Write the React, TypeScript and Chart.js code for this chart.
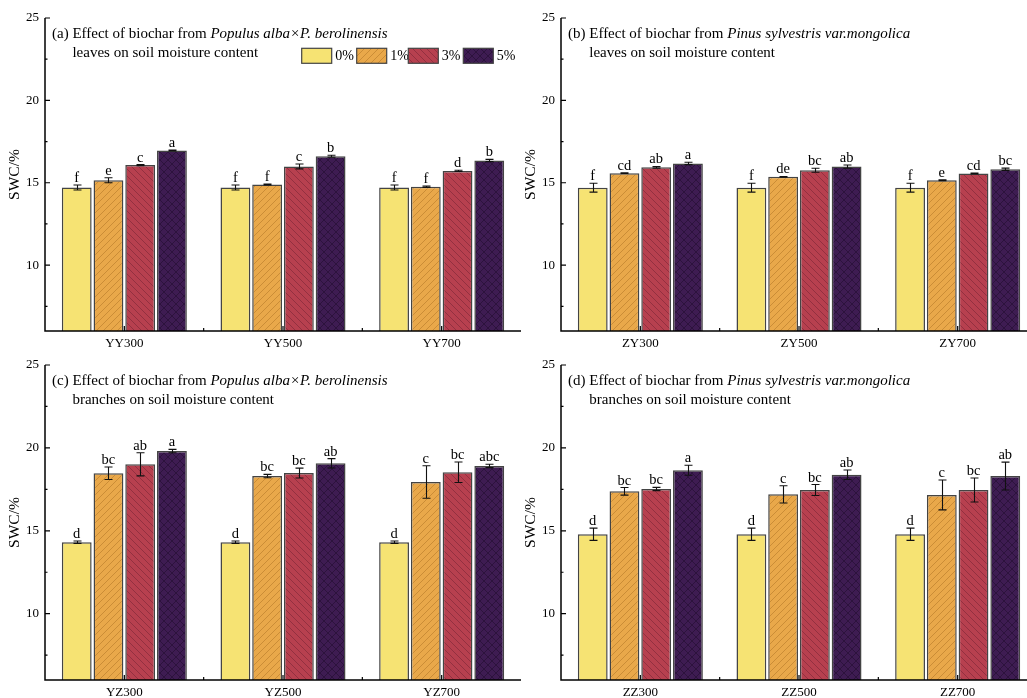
import React, { useEffect, useRef } from "react";
import { Chart, registerables } from "chart.js";

Chart.register(...registerables);

// ---- shared axis settings ----
const DOSES = ["0%", "1%", "3%", "5%"];
const Y_MIN = 6;
const Y_MAX = 25;
const Y_TICKS = [10, 15, 20, 25];
const Y_MINOR = [7.5, 12.5, 17.5, 22.5];

// ---- (a) Populus leaves ----
const YY_CATS = ["YY300", "YY500", "YY700"];
const YY_MEANS = [
  [14.71, 14.71, 14.71],
  [15.15, 14.89, 14.76],
  [16.07, 15.99, 15.72],
  [16.96, 16.61, 16.35],
];
const YY_ERRS = [
  [0.15, 0.15, 0.15],
  [0.15, 0.03, 0.04],
  [0.03, 0.15, 0.04],
  [0.03, 0.06, 0.07],
];
const YY_LETTERS = [
  ["f", "f", "f"],
  ["e", "f", "f"],
  ["c", "c", "d"],
  ["a", "b", "b"],
];

// ---- (b) Pinus leaves ----
const ZY_CATS = ["ZY300", "ZY500", "ZY700"];
const ZY_MEANS = [
  [14.7, 14.7, 14.7],
  [15.58, 15.36, 15.15],
  [15.94, 15.76, 15.56],
  [16.17, 15.98, 15.82],
];
const ZY_ERRS = [
  [0.27, 0.27, 0.27],
  [0.02, 0.02, 0.03],
  [0.05, 0.12, 0.03],
  [0.07, 0.1, 0.07],
];
const ZY_LETTERS = [
  ["f", "f", "f"],
  ["cd", "de", "e"],
  ["ab", "bc", "cd"],
  ["a", "ab", "bc"],
];

// ---- (c) Populus branches ----
const YZ_CATS = ["YZ300", "YZ500", "YZ700"];
const YZ_MEANS = [
  [14.31, 14.31, 14.31],
  [18.47, 18.3, 17.94],
  [19.01, 18.48, 18.53],
  [19.81, 19.07, 18.91],
];
const YZ_ERRS = [
  [0.07, 0.07, 0.07],
  [0.38, 0.1, 0.98],
  [0.7, 0.3, 0.62],
  [0.1, 0.28, 0.1],
];
const YZ_LETTERS = [
  ["d", "d", "d"],
  ["bc", "bc", "c"],
  ["ab", "bc", "bc"],
  ["a", "ab", "abc"],
];

// ---- (d) Pinus branches ----
const ZZ_CATS = ["ZZ300", "ZZ500", "ZZ700"];
const ZZ_MEANS = [
  [14.79, 14.79, 14.79],
  [17.38, 17.2, 17.16],
  [17.52, 17.46, 17.46],
  [18.65, 18.38, 18.3],
];
const ZZ_ERRS = [
  [0.37, 0.37, 0.37],
  [0.23, 0.52, 0.9],
  [0.1, 0.33, 0.72],
  [0.3, 0.29, 0.84],
];
const ZZ_LETTERS = [
  ["d", "d", "d"],
  ["bc", "c", "c"],
  ["bc", "bc", "bc"],
  ["a", "ab", "ab"],
];

const SERIF = '"Liberation Serif", "Times New Roman", Times, serif';
const FILLS = ["#F6E373", "#E9A84A", "#B7404F", "#3E1C52"];
const HATCH_INK = ["", "#C68934", "#8E2F3E", "#2A1139"];
const EDGE = "#444444";

type PanelSpec = {
  tag: string;
  species: string;
  part: string;
  cats: string[];
  means: number[][];
  errs: number[][];
  letters: string[][];
  legend: boolean;
};

const PANEL_A: PanelSpec = {
  tag: "(a)",
  species: "Populus alba×P. berolinensis",
  part: "leaves on soil moisture content",
  cats: YY_CATS,
  means: YY_MEANS,
  errs: YY_ERRS,
  letters: YY_LETTERS,
  legend: true,
};
const PANEL_B: PanelSpec = {
  tag: "(b)",
  species: "Pinus sylvestris var.mongolica",
  part: "leaves on soil moisture content",
  cats: ZY_CATS,
  means: ZY_MEANS,
  errs: ZY_ERRS,
  letters: ZY_LETTERS,
  legend: false,
};
const PANEL_C: PanelSpec = {
  tag: "(c)",
  species: "Populus alba×P. berolinensis",
  part: "branches on soil moisture content",
  cats: YZ_CATS,
  means: YZ_MEANS,
  errs: YZ_ERRS,
  letters: YZ_LETTERS,
  legend: false,
};
const PANEL_D: PanelSpec = {
  tag: "(d)",
  species: "Pinus sylvestris var.mongolica",
  part: "branches on soil moisture content",
  cats: ZZ_CATS,
  means: ZZ_MEANS,
  errs: ZZ_ERRS,
  letters: ZZ_LETTERS,
  legend: false,
};

// hatch patterns: 0 = plain, 1 = "/" lines, 2 = "\" lines, 3 = cross-hatch
function makeFill(i: number): CanvasPattern | string {
  if (i === 0) return FILLS[0];
  const size = i === 3 ? 8 : 7;
  const c = document.createElement("canvas");
  c.width = size;
  c.height = size;
  const g = c.getContext("2d");
  if (!g) return FILLS[i];
  g.fillStyle = FILLS[i];
  g.fillRect(0, 0, size, size);
  g.strokeStyle = HATCH_INK[i];
  g.lineWidth = i === 3 ? 0.8 : 0.9;
  const fwd = () => {
    g.moveTo(0, size);
    g.lineTo(size, 0);
    g.moveTo(-1, 1);
    g.lineTo(1, -1);
    g.moveTo(size - 1, size + 1);
    g.lineTo(size + 1, size - 1);
  };
  const back = () => {
    g.moveTo(0, 0);
    g.lineTo(size, size);
    g.moveTo(size - 1, -1);
    g.lineTo(size + 1, 1);
    g.moveTo(-1, size - 1);
    g.lineTo(1, size + 1);
  };
  g.beginPath();
  if (i === 1 || i === 3) fwd();
  if (i === 2 || i === 3) back();
  g.stroke();
  return g.createPattern(c, "repeat") || FILLS[i];
}

function makeDecor(p: PanelSpec, fills: (CanvasPattern | string)[]) {
  return {
    id: "panelDecor",
    afterDatasetsDraw(chart: any) {
      const { ctx, chartArea: a, scales } = chart;
      const x = scales.x;
      const y = scales.y;
      ctx.save();

      // error bars and significance letters
      ctx.font = `14.5px ${SERIF}`;
      ctx.fillStyle = "#000";
      ctx.textAlign = "center";
      ctx.textBaseline = "alphabetic";
      DOSES.forEach((_, di) => {
        const meta = chart.getDatasetMeta(di);
        meta.data.forEach((bar: any, ci: number) => {
          const m = p.means[di][ci];
          const e = p.errs[di][ci];
          const yt = y.getPixelForValue(m + e);
          const yb = y.getPixelForValue(m - e);
          const cx = Math.round(bar.x) + 0.5;
          ctx.strokeStyle = "#111";
          ctx.lineWidth = 1.1;
          ctx.beginPath();
          ctx.moveTo(cx, yt);
          ctx.lineTo(cx, yb);
          ctx.moveTo(cx - 4, yt);
          ctx.lineTo(cx + 4, yt);
          ctx.moveTo(cx - 4, yb);
          ctx.lineTo(cx + 4, yb);
          ctx.stroke();
          ctx.fillText(p.letters[di][ci], bar.x, Math.min(yt, bar.y) - 3);
        });
      });

      // axis lines
      ctx.strokeStyle = "#000";
      ctx.lineWidth = 1.5;
      ctx.beginPath();
      ctx.moveTo(a.left, a.top);
      ctx.lineTo(a.left, a.bottom);
      ctx.lineTo(a.right, a.bottom);
      ctx.stroke();

      // inward tick marks
      ctx.lineWidth = 1.2;
      ctx.beginPath();
      Y_TICKS.forEach((v) => {
        const py = y.getPixelForValue(v);
        ctx.moveTo(a.left, py);
        ctx.lineTo(a.left + 5, py);
      });
      Y_MINOR.forEach((v) => {
        const py = y.getPixelForValue(v);
        ctx.moveTo(a.left, py);
        ctx.lineTo(a.left + 2.5, py);
      });
      p.cats.forEach((_, i) => {
        const px = x.getPixelForValue(i);
        ctx.moveTo(px, a.bottom);
        ctx.lineTo(px, a.bottom - 5);
        if (i > 0) {
          const mid = (px + x.getPixelForValue(i - 1)) / 2;
          ctx.moveTo(mid, a.bottom);
          ctx.lineTo(mid, a.bottom - 3);
        }
      });
      ctx.stroke();

      // y-axis title
      ctx.save();
      ctx.translate(a.left - 30, (a.top + a.bottom) / 2);
      ctx.rotate(-Math.PI / 2);
      ctx.font = `15.5px ${SERIF}`;
      ctx.textAlign = "center";
      ctx.textBaseline = "middle";
      ctx.fillStyle = "#000";
      ctx.fillText("SWC/%", 0, 0);
      ctx.restore();

      // panel heading
      ctx.textAlign = "left";
      ctx.textBaseline = "alphabetic";
      ctx.fillStyle = "#000";
      ctx.font = `15px ${SERIF}`;
      const x0 = a.left + 7;
      const y1 = a.top + 19.7;
      ctx.fillText(p.tag, x0, y1);
      const indent = x0 + ctx.measureText(p.tag + " ").width;
      const lead = "Effect of biochar from ";
      ctx.fillText(lead, indent, y1);
      const leadW = ctx.measureText(lead).width;
      ctx.font = `italic 15px ${SERIF}`;
      ctx.fillText(p.species, indent + leadW, y1);
      ctx.font = `15px ${SERIF}`;
      ctx.fillText(p.part, indent, y1 + 19.6);

      // legend
      if (p.legend) {
        const offs = [256.7, 311.7, 363.3, 418.3];
        const by = a.top + 30.3;
        ctx.font = `14px ${SERIF}`;
        ctx.textBaseline = "middle";
        DOSES.forEach((d, i) => {
          const bx = a.left + offs[i];
          ctx.fillStyle = fills[i] as any;
          ctx.fillRect(bx, by, 30, 15);
          ctx.strokeStyle = EDGE;
          ctx.lineWidth = 1.2;
          ctx.strokeRect(bx, by, 30, 15);
          ctx.fillStyle = "#000";
          ctx.fillText(d, bx + 33.5, by + 8);
        });
      }
      ctx.restore();
    },
  };
}

type Box = { left: number; top: number; width: number; height: number; padTop: number; plotBottom: number };

function PanelChart({ spec, box }: { spec: PanelSpec; box: Box }) {
  const ref = useRef<HTMLCanvasElement>(null);
  useEffect(() => {
    if (!ref.current) return;
    const fills = DOSES.map((_, i) => makeFill(i));
    const xAxisH = box.height - box.plotBottom;
    const chart = new Chart(ref.current, {
      type: "bar",
      data: {
        labels: spec.cats,
        datasets: DOSES.map((d, i) => ({
          label: d,
          data: spec.means[i],
          backgroundColor: fills[i] as any,
          borderColor: EDGE,
          borderWidth: 1.5,
          barPercentage: 0.94,
          categoryPercentage: 0.8,
        })),
      },
      options: {
        animation: false,
        responsive: false,
        maintainAspectRatio: false,
        layout: { padding: { top: box.padTop, right: box.width - 521, left: 0, bottom: 0 } },
        plugins: {
          legend: { display: false },
          tooltip: { enabled: false },
          title: { display: false },
        },
        scales: {
          x: {
            grid: { display: false, drawTicks: false },
            border: { display: false },
            ticks: { color: "#000", font: { family: SERIF, size: 13 }, padding: 5 },
            afterFit: (s: any) => {
              s.height = xAxisH;
            },
          },
          y: {
            min: Y_MIN,
            max: Y_MAX,
            grid: { display: false, drawTicks: false },
            border: { display: false },
            ticks: { color: "#000", font: { family: SERIF, size: 13 }, padding: 6 },
            afterBuildTicks: (s: any) => {
              s.ticks = Y_TICKS.map((v) => ({ value: v }));
            },
            afterFit: (s: any) => {
              s.width = 45;
            },
          },
        },
      },
      plugins: [makeDecor(spec, fills)],
    } as any);
    return () => chart.destroy();
  }, [spec, box]);
  return (
    <canvas
      ref={ref}
      width={box.width}
      height={box.height}
      style={{ position: "absolute", left: box.left, top: box.top, width: box.width, height: box.height }}
    />
  );
}

const BOX_A: Box = { left: 0, top: 0, width: 530, height: 360, padTop: 18, plotBottom: 331 };
const BOX_B: Box = { left: 516, top: 0, width: 530, height: 360, padTop: 18, plotBottom: 331 };
const BOX_C: Box = { left: 0, top: 345, width: 530, height: 360, padTop: 20, plotBottom: 335 };
const BOX_D: Box = { left: 516, top: 345, width: 530, height: 360, padTop: 20, plotBottom: 335 };

export default function App() {
  return (
    <div
      style={{
        position: "fixed",
        left: 0,
        top: 0,
        width: 1027,
        height: 698,
        overflow: "hidden",
        background: "#fff",
      }}
    >
      <PanelChart spec={PANEL_A} box={BOX_A} />
      <PanelChart spec={PANEL_B} box={BOX_B} />
      <PanelChart spec={PANEL_C} box={BOX_C} />
      <PanelChart spec={PANEL_D} box={BOX_D} />
    </div>
  );
}
